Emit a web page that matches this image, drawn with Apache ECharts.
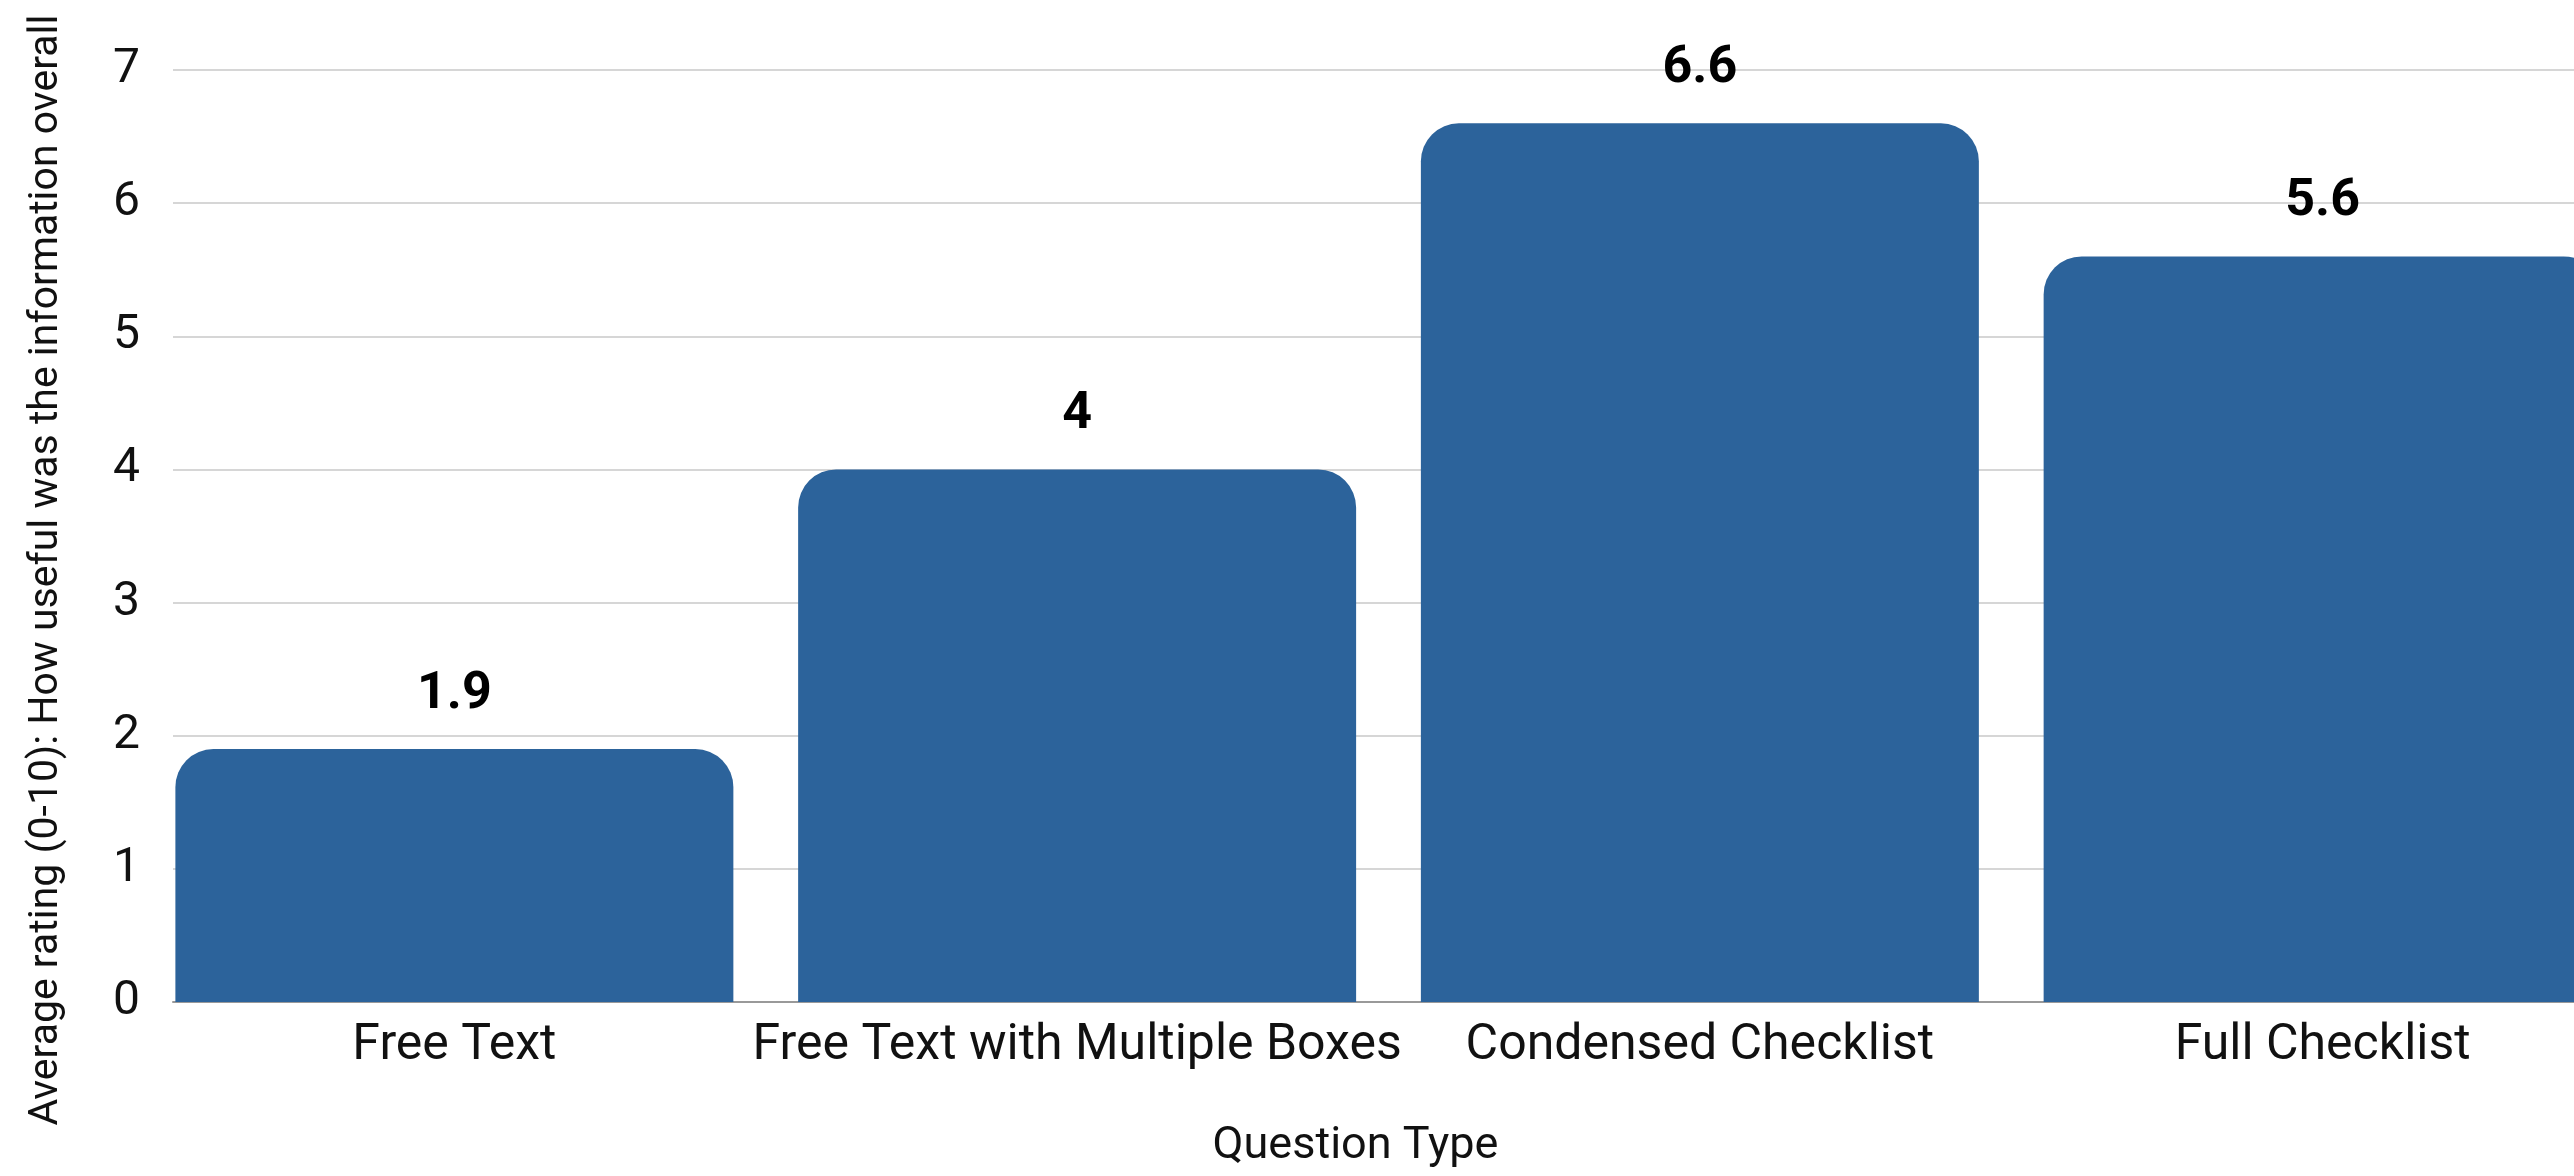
<html>

<head>
    <meta charset='UTF-8'>
    <script src='https://cdn.jsdelivr.net/npm/echarts@6/dist/echarts.min.js'></script>
    <style>
        html, body {
            margin: 0;
            padding: 0;
            background: #fff;
        }

        #chart {
            width: 2574px;
            height: 1176px;
        }
    </style>
</head>

<body>
    <div id="chart"></div>
    <script>
        // question types and their average rating (0-10)
        const categories = ['Free Text', 'Free Text with Multiple Boxes', 'Condensed Checklist', 'Full Checklist']
        const ratings = [1.9, 4, 6.6, 5.6]
        const yMin = 0
        const yMax = 7

        const font = 'Roboto, "Open Sans", sans-serif'
        const barColor = '#2c639b'

        const myChart = echarts.init(document.getElementById('chart'))
        myChart.setOption({
            backgroundColor: '#fff',
            animation: false,
            grid: [
                // bars (plot runs a bit past the right edge, as in the original)
                { left: 143, right: -60, top: 70, bottom: 174, outerBoundsMode: 'none', containLabel: false },
                // y axis, gridlines and baseline
                { left: 173, right: -60, top: 70, bottom: 174, outerBoundsMode: 'none', containLabel: false }
            ],
            xAxis: [{
                gridIndex: 0,
                type: 'category',
                data: categories,
                axisLine: { show: false },
                axisTick: { show: false },
                axisLabel: { interval: 0, color: '#111', fontFamily: font, fontSize: 50, margin: 19 },
                name: 'Question Type',
                nameLocation: 'middle',
                nameGap: 122,
                nameTextStyle: { color: '#111', fontFamily: font, fontSize: 45, padding: [0, 66, 0, 0] }
            }, {
                gridIndex: 1,
                type: 'value',
                min: 0,
                max: 1,
                axisLine: { show: true, lineStyle: { color: '#999', width: 2 } },
                axisTick: { show: false },
                axisLabel: { show: false },
                splitLine: { show: false }
            }],
            yAxis: [{
                gridIndex: 0,
                type: 'value',
                min: yMin,
                max: yMax,
                interval: 1,
                axisLine: { show: false },
                axisTick: { show: false },
                axisLabel: { show: false },
                splitLine: { show: false }
            }, {
                gridIndex: 1,
                type: 'value',
                min: yMin,
                max: yMax,
                interval: 1,
                axisLine: { show: false },
                axisTick: { show: false },
                axisLabel: { color: '#111', fontFamily: font, fontSize: 48, margin: 33 },
                splitLine: { show: true, lineStyle: { color: '#c8c8c8', width: 1.5 } },
                name: 'Average rating (0-10): How useful was the information overall',
                nameLocation: 'middle',
                nameGap: 106,
                nameTextStyle: { color: '#111', fontFamily: font, fontSize: 41, padding: [0, 68, 0, 0] }
            }],
            series: [{
                type: 'bar',
                xAxisIndex: 0,
                yAxisIndex: 0,
                data: ratings,
                barCategoryGap: '10.4%',
                itemStyle: { color: barColor, borderRadius: [38, 38, 0, 0] },
                label: {
                    show: true,
                    position: 'top',
                    distance: 28,
                    color: '#000',
                    fontFamily: font,
                    fontWeight: 'bold',
                    fontSize: 52
                }
            }]
        })
    </script>
</body>

</html>
